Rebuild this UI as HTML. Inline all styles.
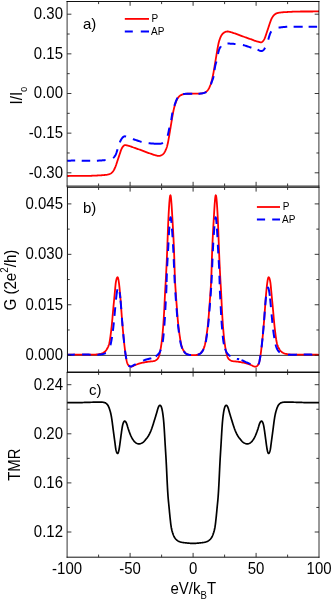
<!DOCTYPE html>
<html><head><meta charset="utf-8"><title>fig</title>
<style>
html,body{margin:0;padding:0;background:#fff;}
svg{display:block;will-change:transform;}
text{font-family:"Liberation Sans",sans-serif;font-size:15px;fill:#000;}
.lg text{font-size:10px;}
</style></head><body>
<svg width="332" height="600" viewBox="0 0 332 600">
<rect width="332" height="600" fill="#fff"/>
<!-- curves panel a -->
<path d="M67.20,176.00 L68.36,175.98 L69.48,175.96 L70.57,175.95 L71.63,175.94 L72.66,175.93 L73.67,175.92 L74.64,175.91 L75.60,175.91 L76.52,175.91 L77.43,175.90 L78.32,175.90 L79.19,175.90 L80.04,175.90 L80.88,175.90 L81.70,175.90 L82.51,175.90 L83.31,175.90 L84.10,175.89 L84.88,175.89 L85.65,175.88 L86.42,175.87 L87.19,175.86 L87.95,175.85 L88.72,175.84 L89.48,175.82 L90.25,175.80 L91.03,175.78 L91.80,175.75 L92.58,175.72 L93.36,175.69 L94.14,175.65 L94.92,175.62 L95.70,175.58 L96.48,175.54 L97.25,175.50 L98.02,175.46 L98.79,175.42 L99.55,175.37 L100.30,175.33 L101.05,175.29 L101.78,175.24 L102.50,175.19 L103.22,175.13 L103.91,175.07 L104.59,175.01 L105.25,174.94 L105.89,174.87 L106.51,174.78 L107.11,174.69 L107.68,174.59 L108.23,174.47 L108.77,174.33 L109.28,174.17 L109.78,173.98 L110.25,173.75 L110.71,173.49 L111.16,173.19 L111.58,172.86 L111.99,172.49 L112.38,172.09 L112.75,171.67 L113.11,171.22 L113.44,170.76 L113.75,170.28 L114.05,169.79 L114.32,169.28 L114.58,168.77 L114.82,168.24 L115.06,167.71 L115.28,167.16 L115.50,166.60 L115.71,166.02 L115.92,165.43 L116.14,164.83 L116.35,164.21 L116.56,163.59 L116.77,162.96 L116.98,162.32 L117.19,161.67 L117.40,161.02 L117.62,160.37 L117.83,159.72 L118.04,159.07 L118.26,158.42 L118.47,157.77 L118.69,157.13 L118.90,156.49 L119.12,155.86 L119.33,155.22 L119.54,154.59 L119.75,153.96 L119.96,153.34 L120.16,152.72 L120.36,152.10 L120.56,151.49 L120.77,150.89 L120.99,150.30 L121.21,149.72 L121.45,149.15 L121.71,148.60 L121.98,148.07 L122.28,147.55 L122.60,147.06 L122.94,146.61 L123.30,146.19 L123.66,145.83 L124.03,145.52 L124.39,145.28 L124.74,145.12 L125.08,145.04 L125.41,145.04 L125.74,145.09 L126.07,145.17 L126.42,145.28 L126.80,145.38 L127.20,145.48 L127.63,145.59 L128.08,145.70 L128.55,145.81 L129.04,145.94 L129.55,146.09 L130.08,146.25 L130.63,146.43 L131.18,146.62 L131.76,146.83 L132.34,147.04 L132.93,147.27 L133.54,147.49 L134.15,147.72 L134.77,147.95 L135.39,148.18 L136.02,148.40 L136.65,148.62 L137.28,148.84 L137.92,149.06 L138.55,149.27 L139.19,149.49 L139.83,149.71 L140.47,149.94 L141.10,150.17 L141.74,150.40 L142.37,150.63 L143.00,150.87 L143.63,151.11 L144.26,151.35 L144.89,151.59 L145.53,151.83 L146.16,152.08 L146.80,152.32 L147.44,152.56 L148.08,152.80 L148.73,153.03 L149.38,153.26 L150.03,153.49 L150.67,153.72 L151.31,153.94 L151.95,154.15 L152.58,154.36 L153.20,154.57 L153.81,154.77 L154.41,154.97 L155.00,155.15 L155.57,155.33 L156.12,155.48 L156.66,155.62 L157.18,155.74 L157.67,155.83 L158.15,155.89 L158.60,155.91 L159.03,155.91 L159.44,155.87 L159.84,155.80 L160.23,155.70 L160.62,155.57 L161.01,155.41 L161.41,155.22 L161.80,155.01 L162.19,154.78 L162.57,154.51 L162.93,154.23 L163.27,153.93 L163.59,153.60 L163.89,153.25 L164.17,152.89 L164.44,152.50 L164.69,152.09 L164.94,151.66 L165.17,151.20 L165.41,150.73 L165.64,150.23 L165.86,149.71 L166.08,149.16 L166.30,148.60 L166.51,148.02 L166.71,147.42 L166.91,146.80 L167.10,146.16 L167.28,145.50 L167.45,144.83 L167.62,144.14 L167.78,143.44 L167.93,142.73 L168.08,142.02 L168.22,141.30 L168.35,140.57 L168.49,139.85 L168.62,139.13 L168.74,138.41 L168.87,137.69 L168.99,136.98 L169.11,136.27 L169.23,135.56 L169.34,134.85 L169.46,134.15 L169.57,133.45 L169.69,132.74 L169.80,132.04 L169.92,131.34 L170.04,130.63 L170.15,129.93 L170.27,129.22 L170.39,128.51 L170.51,127.81 L170.63,127.10 L170.74,126.39 L170.86,125.68 L170.98,124.97 L171.10,124.27 L171.21,123.56 L171.33,122.85 L171.45,122.15 L171.56,121.44 L171.68,120.74 L171.79,120.03 L171.91,119.33 L172.03,118.62 L172.15,117.91 L172.27,117.20 L172.39,116.49 L172.52,115.78 L172.64,115.06 L172.77,114.34 L172.91,113.63 L173.04,112.91 L173.18,112.20 L173.32,111.49 L173.47,110.79 L173.62,110.10 L173.77,109.41 L173.93,108.73 L174.09,108.06 L174.26,107.40 L174.43,106.74 L174.61,106.10 L174.79,105.46 L174.98,104.83 L175.18,104.21 L175.38,103.59 L175.60,102.97 L175.81,102.36 L176.04,101.75 L176.28,101.15 L176.53,100.56 L176.79,99.98 L177.06,99.42 L177.34,98.88 L177.64,98.36 L177.96,97.87 L178.29,97.41 L178.64,96.99 L179.01,96.59 L179.39,96.23 L179.79,95.89 L180.21,95.59 L180.65,95.32 L181.10,95.07 L181.57,94.85 L182.06,94.65 L182.56,94.47 L183.07,94.32 L183.57,94.19 L184.08,94.08 L184.57,93.99 L185.05,93.92 L185.51,93.86 L185.96,93.82 L186.39,93.79 L186.83,93.77 L187.27,93.76 L187.73,93.76 L188.21,93.75 L188.71,93.74 L189.25,93.74 L189.80,93.73 L190.37,93.73 L190.96,93.72 L191.57,93.72 L192.18,93.71 L192.79,93.70 L193.41,93.70 L194.02,93.69 L194.63,93.68 L195.24,93.68 L195.83,93.67 L196.40,93.67 L196.95,93.66 L197.49,93.66 L197.99,93.65 L198.47,93.64 L198.93,93.64 L199.37,93.63 L199.81,93.61 L200.24,93.58 L200.69,93.54 L201.15,93.48 L201.63,93.41 L202.12,93.32 L202.63,93.21 L203.13,93.08 L203.64,92.93 L204.14,92.75 L204.63,92.55 L205.10,92.33 L205.55,92.08 L205.99,91.81 L206.41,91.51 L206.81,91.17 L207.19,90.81 L207.56,90.41 L207.91,89.99 L208.24,89.53 L208.56,89.04 L208.86,88.52 L209.14,87.98 L209.41,87.42 L209.67,86.84 L209.92,86.25 L210.16,85.65 L210.39,85.04 L210.60,84.43 L210.82,83.81 L211.02,83.19 L211.22,82.57 L211.41,81.94 L211.59,81.30 L211.77,80.66 L211.94,80.00 L212.11,79.34 L212.27,78.67 L212.43,77.99 L212.58,77.30 L212.73,76.61 L212.88,75.91 L213.02,75.20 L213.16,74.49 L213.29,73.77 L213.43,73.06 L213.56,72.34 L213.68,71.62 L213.81,70.91 L213.93,70.20 L214.05,69.49 L214.17,68.78 L214.29,68.07 L214.41,67.37 L214.52,66.66 L214.64,65.96 L214.75,65.25 L214.87,64.55 L214.99,63.84 L215.10,63.13 L215.22,62.43 L215.34,61.72 L215.46,61.01 L215.57,60.30 L215.69,59.59 L215.81,58.89 L215.93,58.18 L216.05,57.47 L216.16,56.77 L216.28,56.06 L216.40,55.36 L216.51,54.66 L216.63,53.95 L216.74,53.25 L216.86,52.55 L216.97,51.84 L217.09,51.13 L217.21,50.42 L217.33,49.71 L217.46,48.99 L217.58,48.27 L217.71,47.55 L217.85,46.83 L217.98,46.10 L218.12,45.38 L218.27,44.67 L218.42,43.96 L218.58,43.26 L218.75,42.57 L218.92,41.90 L219.10,41.24 L219.29,40.60 L219.49,39.98 L219.69,39.38 L219.90,38.80 L220.12,38.24 L220.34,37.69 L220.56,37.17 L220.79,36.67 L221.03,36.20 L221.26,35.74 L221.51,35.31 L221.76,34.90 L222.03,34.51 L222.31,34.15 L222.61,33.80 L222.93,33.47 L223.27,33.17 L223.63,32.89 L224.01,32.62 L224.40,32.39 L224.79,32.18 L225.19,31.99 L225.58,31.83 L225.97,31.70 L226.36,31.60 L226.76,31.53 L227.17,31.49 L227.60,31.49 L228.05,31.51 L228.53,31.57 L229.02,31.66 L229.54,31.78 L230.08,31.92 L230.63,32.07 L231.20,32.25 L231.79,32.43 L232.39,32.63 L233.00,32.83 L233.62,33.04 L234.25,33.25 L234.89,33.46 L235.53,33.68 L236.17,33.91 L236.82,34.14 L237.47,34.37 L238.12,34.60 L238.76,34.84 L239.40,35.08 L240.04,35.32 L240.67,35.57 L241.31,35.81 L241.94,36.05 L242.57,36.29 L243.20,36.53 L243.83,36.77 L244.46,37.00 L245.10,37.23 L245.73,37.46 L246.37,37.69 L247.01,37.91 L247.65,38.13 L248.28,38.34 L248.92,38.56 L249.55,38.78 L250.18,39.00 L250.81,39.22 L251.43,39.45 L252.05,39.68 L252.66,39.91 L253.27,40.13 L253.86,40.36 L254.44,40.57 L255.02,40.78 L255.57,40.97 L256.12,41.15 L256.65,41.31 L257.16,41.46 L257.65,41.59 L258.12,41.70 L258.57,41.81 L259.00,41.92 L259.40,42.02 L259.78,42.12 L260.13,42.23 L260.46,42.31 L260.79,42.36 L261.12,42.36 L261.46,42.28 L261.81,42.12 L262.17,41.88 L262.54,41.57 L262.90,41.21 L263.26,40.79 L263.60,40.34 L263.92,39.85 L264.22,39.33 L264.49,38.80 L264.75,38.25 L264.99,37.68 L265.21,37.10 L265.43,36.51 L265.64,35.91 L265.84,35.30 L266.04,34.68 L266.24,34.06 L266.45,33.44 L266.66,32.81 L266.87,32.18 L267.08,31.54 L267.30,30.91 L267.51,30.27 L267.73,29.63 L267.94,28.98 L268.16,28.33 L268.37,27.68 L268.58,27.03 L268.80,26.38 L269.01,25.73 L269.22,25.08 L269.43,24.44 L269.64,23.81 L269.85,23.19 L270.06,22.57 L270.28,21.97 L270.49,21.38 L270.70,20.80 L270.92,20.24 L271.14,19.69 L271.38,19.16 L271.62,18.63 L271.88,18.12 L272.15,17.61 L272.45,17.12 L272.76,16.64 L273.09,16.18 L273.45,15.73 L273.82,15.31 L274.21,14.91 L274.62,14.54 L275.04,14.21 L275.49,13.91 L275.95,13.65 L276.42,13.42 L276.92,13.23 L277.43,13.07 L277.97,12.93 L278.52,12.81 L279.09,12.71 L279.69,12.62 L280.31,12.53 L280.95,12.46 L281.61,12.39 L282.29,12.33 L282.98,12.27 L283.70,12.21 L284.42,12.16 L285.15,12.11 L285.90,12.07 L286.65,12.03 L287.41,11.98 L288.18,11.94 L288.95,11.90 L289.72,11.86 L290.50,11.82 L291.28,11.78 L292.06,11.75 L292.84,11.71 L293.62,11.68 L294.40,11.65 L295.17,11.62 L295.95,11.60 L296.72,11.58 L297.48,11.56 L298.25,11.55 L299.01,11.54 L299.78,11.53 L300.55,11.52 L301.32,11.51 L302.10,11.51 L302.89,11.50 L303.69,11.50 L304.50,11.50 L305.32,11.50 L306.16,11.50 L307.01,11.50 L307.88,11.50 L308.77,11.50 L309.68,11.49 L310.60,11.49 L311.56,11.49 L312.53,11.48 L313.54,11.47 L314.57,11.46 L315.63,11.45 L316.72,11.44 L317.84,11.42 L319.00,11.40" fill="none" stroke="#ff0000" stroke-width="1.8" stroke-linejoin="round"/>
<path d="M67.20,160.70 L68.28,160.67 L69.34,160.65 L70.39,160.63 L71.43,160.61 L72.45,160.60 L73.45,160.59 L74.44,160.59 L75.20,160.58M81.70,160.63 L81.93,160.64 L82.82,160.65 L83.69,160.66 L84.56,160.67 L85.41,160.69 L86.26,160.70 L87.09,160.71 L87.92,160.72 L88.74,160.73 L89.56,160.74 L90.20,160.75M96.90,160.69 L97.34,160.67 L98.09,160.65 L98.84,160.61 L99.58,160.57 L100.32,160.53 L101.05,160.48 L101.78,160.43 L102.49,160.37 L103.20,160.30 L103.90,160.24 L104.58,160.16 L105.24,160.08 L105.57,160.04M113.04,157.97 L113.37,157.72 L113.70,157.44 L114.01,157.13 L114.31,156.80 L114.60,156.45 L114.87,156.06 L115.13,155.65 L115.39,155.21 L115.63,154.75 L115.86,154.25 L116.08,153.73 L116.29,153.19 L116.49,152.63 L116.68,152.05 L116.87,151.45 L117.06,150.85 L117.24,150.24 L117.42,149.62 L117.53,149.26M119.75,142.43 L119.99,141.88 L120.24,141.33 L120.50,140.79 L120.77,140.26 L121.06,139.73 L121.35,139.23 L121.67,138.74 L121.99,138.28 L122.33,137.85 L122.67,137.47 L123.03,137.13 L123.40,136.84 L123.78,136.62 L124.17,136.46 L124.57,136.37 L124.98,136.36 L125.40,136.40 L125.83,136.50 L126.03,136.57M132.90,139.12 L133.05,139.17 L133.61,139.33 L134.18,139.50 L134.77,139.69 L135.37,139.88 L135.99,140.08 L136.62,140.30 L137.25,140.51 L137.90,140.73 L138.55,140.95 L139.20,141.17 L139.85,141.39 L140.50,141.60 L141.14,141.80 L141.56,141.92M148.60,143.23 L148.89,143.25 L149.49,143.30 L150.11,143.35 L150.74,143.40 L151.39,143.45 L152.05,143.51 L152.72,143.56 L153.40,143.61 L154.08,143.65 L154.76,143.70 L155.42,143.73 L156.08,143.77 L156.72,143.79 L157.35,143.81 L157.95,143.82 L158.52,143.82 L159.06,143.81 L159.56,143.78 L160.04,143.74 L160.48,143.69 L160.90,143.62 L161.29,143.54 L161.67,143.43 L162.03,143.31 L162.38,143.16 L162.72,142.99 L162.92,142.87M167.66,135.74 L167.84,135.01 L168.02,134.25 L168.19,133.47 L168.37,132.66 L168.54,131.85 L168.71,131.04 L168.87,130.23 L169.03,129.44 L169.19,128.67 L169.35,127.93 L169.41,127.62M171.23,120.17 L171.34,119.49 L171.45,118.76 L171.57,118.01 L171.68,117.23 L171.80,116.44 L171.91,115.65 L172.03,114.85 L172.15,114.07 L172.27,113.30 L172.37,112.66M174.30,105.84 L174.46,105.41 L174.61,104.97 L174.77,104.51 L174.93,104.04 L175.10,103.56 L175.27,103.07 L175.44,102.58 L175.62,102.08 L175.81,101.58 L176.00,101.08 L176.20,100.58 L176.41,100.08 L176.62,99.59 L176.84,99.12 L177.08,98.66 L177.32,98.21 L177.58,97.79 L177.63,97.71M183.10,94.21 L183.36,94.15 L183.78,94.06 L184.20,93.99 L184.62,93.92 L185.02,93.87 L185.41,93.83 L185.79,93.80 L186.16,93.78 L186.52,93.76 L186.89,93.76 L187.26,93.75 L187.65,93.75 L188.05,93.75 L188.46,93.75 L188.90,93.75 L189.35,93.74 L189.82,93.74 L190.30,93.74 L190.80,93.73 L191.30,93.72 L191.81,93.72 L192.26,93.71M198.50,93.65 L198.55,93.65 L198.94,93.65 L199.31,93.64 L199.68,93.64 L200.04,93.62 L200.41,93.60 L200.79,93.57 L201.18,93.53 L201.58,93.48 L202.00,93.41 L202.42,93.34 L202.84,93.25 L203.27,93.15 L203.70,93.04 L204.12,92.91 L204.54,92.78 L204.95,92.62 L205.34,92.46 L205.73,92.28 L206.10,92.08 L206.40,91.89M210.93,84.33 L211.10,83.84 L211.27,83.36 L211.43,82.89 L211.59,82.43 L211.74,81.99 L211.90,81.56 L212.05,81.15 L212.19,80.75 L212.34,80.37 L212.48,80.00 L212.63,79.62 L212.76,79.24 L212.90,78.83 L213.04,78.40 L213.17,77.93 L213.30,77.41 L213.43,76.85 L213.56,76.23 L213.57,76.16M214.52,70.17 L214.63,69.39 L214.75,68.64 L214.86,67.91 L214.97,67.23 L215.09,66.59 L215.20,66.01 L215.31,65.48 L215.43,65.00 L215.54,64.56 L215.66,64.14 L215.78,63.74 L215.90,63.33 L216.02,62.91 L216.15,62.46 L216.28,61.97 L216.40,61.48M218.01,53.93 L218.18,53.15 L218.36,52.39 L218.54,51.66 L218.71,50.98 L218.90,50.34 L219.08,49.76 L219.26,49.24 L219.44,48.78 L219.63,48.36 L219.83,47.97 L220.04,47.63 L220.25,47.30 L220.48,47.00 L220.72,46.70 L220.98,46.42 L220.98,46.41M227.50,43.59 L227.68,43.58 L228.25,43.58 L228.85,43.59 L229.48,43.61 L230.12,43.63 L230.78,43.67 L231.44,43.70 L232.12,43.75 L232.80,43.79 L233.48,43.84 L234.15,43.89 L234.81,43.95 L235.46,44.00 L235.49,44.00M242.90,45.00 L243.17,45.07 L243.79,45.23 L244.42,45.41 L245.06,45.60 L245.70,45.80 L246.35,46.01 L247.00,46.23 L247.65,46.45 L248.30,46.67 L248.95,46.89 L249.58,47.10 L250.21,47.32 L250.83,47.52 L251.38,47.70M257.60,49.70 L257.67,49.73 L258.14,49.95 L258.60,50.16 L259.05,50.38 L259.50,50.58 L259.94,50.75 L260.37,50.90 L260.80,51.00 L261.22,51.04 L261.63,51.03 L262.03,50.94 L262.42,50.78 L262.80,50.56 L263.17,50.27 L263.53,49.93 L263.87,49.55 L264.21,49.12 L264.53,48.66 L264.85,48.17 L265.09,47.77M268.24,39.65 L268.42,39.03 L268.60,38.40 L268.78,37.78 L268.96,37.16 L269.14,36.55 L269.33,35.95 L269.52,35.35 L269.71,34.77 L269.91,34.21 L270.12,33.67 L270.34,33.15 L270.57,32.65 L270.81,32.19 L271.07,31.75 L271.33,31.34M278.60,27.65 L279.08,27.57 L279.68,27.48 L280.31,27.40 L280.96,27.32 L281.62,27.24 L282.30,27.16 L283.00,27.10 L283.71,27.03 L284.42,26.97 L285.15,26.92 L285.88,26.87 L286.62,26.83 L287.25,26.79M293.60,26.65 L294.25,26.65 L295.04,26.65 L295.84,26.65 L296.64,26.66 L297.46,26.67 L298.28,26.68 L299.11,26.69 L299.94,26.70 L300.79,26.71 L301.64,26.73 L302.51,26.74 L302.70,26.74M308.60,26.81 L308.86,26.81 L309.81,26.81 L310.78,26.82 L311.76,26.81 L312.75,26.81 L313.75,26.80 L314.77,26.79 L315.81,26.77 L316.86,26.75 L317.10,26.75" fill="none" stroke="#0000ff" stroke-width="2" stroke-linejoin="round"/>
<!-- panel b -->
<path d="M67.1,355.4H319.0" stroke="#000" stroke-width="0.75" fill="none"/>
<path d="M67.20,354.80 L68.90,354.76 L70.62,354.73 L72.33,354.71 L74.05,354.70 L75.75,354.69 L77.44,354.69 L79.11,354.69 L80.76,354.69 L82.37,354.69 L83.95,354.70 L85.48,354.70 L86.96,354.70 L88.39,354.70 L89.76,354.69 L91.06,354.68 L92.29,354.66 L93.44,354.63 L94.50,354.59 L95.48,354.55 L96.36,354.49 L97.15,354.42 L97.86,354.33 L98.54,354.23 L99.19,354.11 L99.86,353.96 L100.55,353.79 L101.25,353.59 L101.95,353.35 L102.65,353.07 L103.31,352.74 L103.94,352.36 L104.54,351.92 L105.11,351.42 L105.65,350.87 L106.16,350.25 L106.65,349.57 L107.11,348.84 L107.55,348.05 L107.95,347.22 L108.33,346.33 L108.67,345.41 L108.97,344.45 L109.24,343.45 L109.47,342.42 L109.69,341.35 L109.88,340.26 L110.06,339.14 L110.22,337.98 L110.39,336.80 L110.55,335.60 L110.71,334.37 L110.87,333.11 L111.03,331.83 L111.19,330.54 L111.34,329.22 L111.49,327.89 L111.64,326.54 L111.78,325.17 L111.92,323.80 L112.05,322.41 L112.18,321.02 L112.31,319.62 L112.43,318.22 L112.55,316.83 L112.67,315.45 L112.79,314.07 L112.91,312.71 L113.03,311.37 L113.15,310.05 L113.27,308.74 L113.39,307.44 L113.51,306.16 L113.63,304.87 L113.75,303.59 L113.88,302.31 L114.00,301.02 L114.13,299.72 L114.25,298.40 L114.38,297.08 L114.51,295.76 L114.63,294.44 L114.75,293.13 L114.87,291.84 L114.99,290.56 L115.11,289.30 L115.22,288.07 L115.33,286.87 L115.44,285.71 L115.56,284.58 L115.69,283.48 L115.84,282.42 L116.01,281.40 L116.20,280.41 L116.43,279.47 L116.69,278.61 L116.96,277.90 L117.23,277.40 L117.49,277.20 L117.73,277.34 L117.94,277.75 L118.14,278.37 L118.32,279.11 L118.49,279.94 L118.64,280.84 L118.79,281.80 L118.93,282.82 L119.07,283.88 L119.20,284.97 L119.32,286.08 L119.45,287.22 L119.57,288.37 L119.69,289.55 L119.81,290.75 L119.93,291.98 L120.05,293.23 L120.16,294.51 L120.27,295.81 L120.38,297.14 L120.48,298.50 L120.59,299.87 L120.69,301.25 L120.79,302.65 L120.90,304.06 L121.00,305.47 L121.10,306.89 L121.20,308.30 L121.30,309.72 L121.40,311.13 L121.50,312.53 L121.61,313.93 L121.71,315.32 L121.81,316.71 L121.92,318.09 L122.02,319.46 L122.13,320.82 L122.24,322.17 L122.35,323.51 L122.46,324.83 L122.57,326.15 L122.68,327.45 L122.79,328.74 L122.90,330.01 L123.01,331.27 L123.13,332.51 L123.24,333.74 L123.35,334.95 L123.47,336.15 L123.58,337.34 L123.70,338.53 L123.82,339.71 L123.94,340.90 L124.07,342.10 L124.20,343.31 L124.34,344.54 L124.47,345.77 L124.62,347.01 L124.76,348.23 L124.91,349.45 L125.05,350.64 L125.20,351.80 L125.35,352.92 L125.50,354.00 L125.64,355.03 L125.79,356.03 L125.95,357.00 L126.11,357.95 L126.28,358.88 L126.46,359.80 L126.65,360.73 L126.87,361.64 L127.11,362.52 L127.39,363.36 L127.71,364.14 L128.09,364.83 L128.53,365.43 L129.03,365.92 L129.59,366.29 L130.19,366.52 L130.83,366.60 L131.50,366.54 L132.19,366.36 L132.88,366.10 L133.55,365.81 L134.19,365.51 L134.80,365.24 L135.39,364.98 L136.00,364.74 L136.65,364.49 L137.36,364.24 L138.14,363.97 L138.98,363.71 L139.86,363.44 L140.78,363.19 L141.72,362.94 L142.67,362.71 L143.63,362.51 L144.57,362.32 L145.48,362.16 L146.34,362.01 L147.14,361.88 L147.85,361.78 L148.47,361.69 L149.05,361.62 L149.62,361.56 L150.22,361.50 L150.89,361.44 L151.61,361.37 L152.37,361.29 L153.13,361.17 L153.89,361.02 L154.62,360.81 L155.31,360.55 L155.95,360.24 L156.55,359.86 L157.08,359.42 L157.55,358.90 L157.97,358.33 L158.33,357.70 L158.65,357.02 L158.93,356.30 L159.18,355.55 L159.41,354.77 L159.63,353.95 L159.82,353.10 L160.01,352.22 L160.19,351.30 L160.37,350.34 L160.55,349.35 L160.73,348.34 L160.91,347.30 L161.08,346.24 L161.24,345.17 L161.40,344.09 L161.55,343.00 L161.70,341.91 L161.83,340.81 L161.96,339.70 L162.09,338.58 L162.21,337.45 L162.32,336.31 L162.44,335.15 L162.55,333.98 L162.66,332.79 L162.76,331.59 L162.87,330.39 L162.97,329.18 L163.07,327.97 L163.17,326.77 L163.26,325.56 L163.35,324.37 L163.43,323.19 L163.51,322.00 L163.59,320.82 L163.67,319.64 L163.75,318.44 L163.82,317.23 L163.89,316.01 L163.96,314.76 L164.04,313.49 L164.11,312.20 L164.18,310.89 L164.25,309.56 L164.32,308.21 L164.39,306.85 L164.46,305.47 L164.52,304.08 L164.59,302.68 L164.66,301.27 L164.72,299.86 L164.79,298.46 L164.85,297.06 L164.92,295.69 L164.98,294.34 L165.04,293.03 L165.11,291.76 L165.17,290.53 L165.24,289.36 L165.30,288.23 L165.37,287.13 L165.44,286.02 L165.51,284.89 L165.58,283.72 L165.65,282.47 L165.73,281.13 L165.82,279.67 L165.91,278.09 L166.00,276.38 L166.09,274.56 L166.19,272.64 L166.29,270.64 L166.39,268.55 L166.49,266.41 L166.60,264.21 L166.70,261.96 L166.80,259.69 L166.90,257.39 L166.99,255.09 L167.09,252.78 L167.18,250.49 L167.27,248.23 L167.35,245.99 L167.43,243.76 L167.51,241.56 L167.59,239.36 L167.67,237.16 L167.75,234.97 L167.83,232.77 L167.91,230.57 L168.00,228.35 L168.09,226.12 L168.18,223.86 L168.28,221.58 L168.39,219.27 L168.50,216.92 L168.62,214.53 L168.75,212.11 L168.89,209.70 L169.03,207.34 L169.18,205.07 L169.33,202.93 L169.49,200.97 L169.65,199.22 L169.81,197.74 L169.98,196.56 L170.14,195.72 L170.31,195.27 L170.47,195.24 L170.64,195.65 L170.80,196.45 L170.96,197.60 L171.11,199.06 L171.27,200.78 L171.42,202.72 L171.58,204.84 L171.72,207.10 L171.87,209.46 L172.02,211.87 L172.16,214.29 L172.30,216.69 L172.44,219.04 L172.57,221.36 L172.70,223.65 L172.83,225.91 L172.95,228.15 L173.08,230.37 L173.20,232.57 L173.31,234.77 L173.42,236.96 L173.53,239.15 L173.63,241.35 L173.73,243.55 L173.83,245.77 L173.92,248.00 L174.01,250.26 L174.09,252.53 L174.17,254.82 L174.25,257.11 L174.32,259.40 L174.39,261.66 L174.46,263.90 L174.53,266.10 L174.59,268.25 L174.66,270.34 L174.72,272.36 L174.78,274.29 L174.85,276.14 L174.91,277.88 L174.98,279.51 L175.05,281.02 L175.12,282.41 L175.19,283.70 L175.26,284.92 L175.33,286.07 L175.40,287.17 L175.48,288.24 L175.55,289.30 L175.63,290.37 L175.70,291.45 L175.77,292.55 L175.85,293.65 L175.92,294.78 L176.00,295.91 L176.08,297.06 L176.16,298.22 L176.25,299.39 L176.33,300.57 L176.42,301.76 L176.51,302.95 L176.60,304.16 L176.70,305.36 L176.79,306.57 L176.88,307.79 L176.97,309.00 L177.06,310.21 L177.14,311.42 L177.23,312.63 L177.32,313.84 L177.40,315.04 L177.50,316.23 L177.59,317.41 L177.69,318.59 L177.79,319.76 L177.89,320.91 L178.00,322.06 L178.12,323.19 L178.24,324.30 L178.36,325.40 L178.48,326.49 L178.61,327.56 L178.74,328.61 L178.87,329.64 L179.00,330.67 L179.14,331.70 L179.28,332.72 L179.42,333.76 L179.57,334.80 L179.72,335.85 L179.88,336.92 L180.04,337.98 L180.20,339.04 L180.37,340.08 L180.54,341.09 L180.72,342.07 L180.90,343.01 L181.09,343.91 L181.29,344.77 L181.50,345.59 L181.73,346.39 L181.98,347.17 L182.26,347.92 L182.56,348.66 L182.89,349.38 L183.24,350.07 L183.62,350.73 L184.02,351.36 L184.45,351.94 L184.91,352.49 L185.42,352.99 L185.98,353.44 L186.59,353.83 L187.27,354.18 L187.99,354.46 L188.73,354.70 L189.47,354.88 L190.19,355.00 L190.88,355.07 L191.53,355.10 L192.17,355.11 L192.79,355.10 L193.41,355.10 L194.03,355.11 L194.67,355.10 L195.32,355.07 L196.01,355.00 L196.73,354.88 L197.47,354.70 L198.21,354.46 L198.93,354.18 L199.61,353.83 L200.22,353.44 L200.78,352.99 L201.29,352.49 L201.75,351.94 L202.18,351.36 L202.58,350.73 L202.96,350.07 L203.31,349.38 L203.64,348.66 L203.94,347.92 L204.22,347.17 L204.47,346.39 L204.70,345.59 L204.91,344.77 L205.11,343.91 L205.30,343.01 L205.48,342.07 L205.66,341.09 L205.83,340.08 L206.00,339.04 L206.16,337.98 L206.32,336.92 L206.48,335.85 L206.63,334.80 L206.78,333.76 L206.92,332.72 L207.06,331.70 L207.20,330.67 L207.33,329.64 L207.46,328.61 L207.59,327.56 L207.72,326.49 L207.84,325.40 L207.96,324.30 L208.08,323.19 L208.20,322.06 L208.31,320.91 L208.41,319.76 L208.51,318.59 L208.61,317.41 L208.70,316.23 L208.80,315.04 L208.88,313.84 L208.97,312.63 L209.06,311.42 L209.14,310.21 L209.23,309.00 L209.32,307.79 L209.41,306.57 L209.50,305.36 L209.60,304.16 L209.69,302.95 L209.78,301.76 L209.87,300.57 L209.95,299.39 L210.04,298.22 L210.12,297.06 L210.20,295.91 L210.28,294.78 L210.35,293.65 L210.43,292.55 L210.50,291.45 L210.57,290.37 L210.65,289.30 L210.72,288.24 L210.80,287.17 L210.87,286.07 L210.94,284.92 L211.01,283.70 L211.08,282.41 L211.15,281.02 L211.22,279.51 L211.29,277.88 L211.35,276.14 L211.42,274.29 L211.48,272.36 L211.54,270.34 L211.61,268.25 L211.67,266.10 L211.74,263.90 L211.81,261.66 L211.88,259.40 L211.95,257.11 L212.03,254.82 L212.11,252.53 L212.19,250.26 L212.28,248.00 L212.37,245.77 L212.47,243.55 L212.57,241.35 L212.67,239.15 L212.78,236.96 L212.89,234.77 L213.00,232.57 L213.12,230.37 L213.25,228.15 L213.37,225.91 L213.50,223.65 L213.63,221.36 L213.76,219.04 L213.90,216.69 L214.04,214.29 L214.18,211.87 L214.33,209.46 L214.48,207.10 L214.62,204.84 L214.78,202.72 L214.93,200.78 L215.09,199.06 L215.24,197.60 L215.40,196.45 L215.56,195.65 L215.73,195.24 L215.89,195.27 L216.06,195.72 L216.22,196.56 L216.39,197.74 L216.55,199.22 L216.71,200.97 L216.87,202.93 L217.02,205.07 L217.17,207.34 L217.31,209.70 L217.45,212.11 L217.58,214.53 L217.70,216.92 L217.81,219.27 L217.92,221.58 L218.02,223.86 L218.11,226.12 L218.20,228.35 L218.29,230.57 L218.37,232.77 L218.45,234.97 L218.53,237.16 L218.61,239.36 L218.69,241.56 L218.77,243.76 L218.85,245.99 L218.93,248.23 L219.02,250.49 L219.11,252.78 L219.21,255.09 L219.30,257.39 L219.40,259.69 L219.50,261.96 L219.60,264.21 L219.71,266.41 L219.81,268.55 L219.91,270.64 L220.01,272.64 L220.11,274.56 L220.20,276.38 L220.29,278.09 L220.38,279.67 L220.47,281.13 L220.55,282.47 L220.62,283.72 L220.69,284.89 L220.76,286.02 L220.83,287.13 L220.90,288.23 L220.96,289.36 L221.03,290.53 L221.09,291.76 L221.16,293.03 L221.22,294.34 L221.28,295.69 L221.35,297.06 L221.41,298.46 L221.48,299.86 L221.54,301.27 L221.61,302.68 L221.68,304.08 L221.74,305.47 L221.81,306.85 L221.88,308.21 L221.95,309.56 L222.02,310.89 L222.09,312.20 L222.16,313.49 L222.24,314.76 L222.31,316.01 L222.38,317.23 L222.45,318.44 L222.53,319.64 L222.61,320.82 L222.69,322.00 L222.77,323.19 L222.85,324.37 L222.94,325.56 L223.03,326.77 L223.13,327.97 L223.23,329.18 L223.33,330.39 L223.44,331.59 L223.54,332.79 L223.65,333.98 L223.76,335.15 L223.88,336.31 L223.99,337.45 L224.11,338.58 L224.24,339.70 L224.37,340.81 L224.50,341.91 L224.65,343.00 L224.80,344.09 L224.96,345.17 L225.12,346.24 L225.29,347.30 L225.47,348.34 L225.65,349.35 L225.83,350.34 L226.01,351.30 L226.19,352.22 L226.38,353.10 L226.57,353.95 L226.79,354.77 L227.02,355.55 L227.27,356.30 L227.55,357.02 L227.87,357.70 L228.23,358.33 L228.65,358.90 L229.12,359.42 L229.65,359.86 L230.25,360.24 L230.89,360.55 L231.58,360.81 L232.31,361.02 L233.07,361.17 L233.83,361.29 L234.59,361.37 L235.31,361.44 L235.98,361.50 L236.58,361.56 L237.15,361.62 L237.73,361.69 L238.35,361.78 L239.06,361.88 L239.86,362.01 L240.72,362.16 L241.63,362.32 L242.57,362.51 L243.53,362.71 L244.48,362.94 L245.42,363.19 L246.34,363.44 L247.22,363.71 L248.06,363.97 L248.84,364.24 L249.55,364.49 L250.20,364.74 L250.81,364.98 L251.40,365.24 L252.01,365.51 L252.65,365.81 L253.32,366.10 L254.01,366.36 L254.70,366.54 L255.37,366.60 L256.01,366.52 L256.61,366.29 L257.17,365.92 L257.67,365.43 L258.11,364.83 L258.49,364.14 L258.81,363.36 L259.09,362.52 L259.33,361.64 L259.55,360.73 L259.74,359.80 L259.92,358.88 L260.09,357.95 L260.25,357.00 L260.41,356.03 L260.56,355.03 L260.70,354.00 L260.85,352.92 L261.00,351.80 L261.15,350.64 L261.29,349.45 L261.44,348.23 L261.58,347.01 L261.73,345.77 L261.86,344.54 L262.00,343.31 L262.13,342.10 L262.26,340.90 L262.38,339.71 L262.50,338.53 L262.62,337.34 L262.73,336.15 L262.85,334.95 L262.96,333.74 L263.07,332.51 L263.19,331.27 L263.30,330.01 L263.41,328.74 L263.52,327.45 L263.63,326.15 L263.74,324.83 L263.85,323.51 L263.96,322.17 L264.07,320.82 L264.18,319.46 L264.28,318.09 L264.39,316.71 L264.49,315.32 L264.59,313.93 L264.70,312.53 L264.80,311.13 L264.90,309.72 L265.00,308.30 L265.10,306.89 L265.20,305.47 L265.30,304.06 L265.41,302.65 L265.51,301.25 L265.61,299.87 L265.72,298.50 L265.82,297.14 L265.93,295.81 L266.04,294.51 L266.15,293.23 L266.27,291.98 L266.39,290.75 L266.51,289.55 L266.63,288.37 L266.75,287.22 L266.88,286.08 L267.00,284.97 L267.13,283.88 L267.27,282.82 L267.41,281.80 L267.56,280.84 L267.71,279.94 L267.88,279.11 L268.06,278.37 L268.26,277.75 L268.47,277.34 L268.71,277.20 L268.97,277.40 L269.24,277.90 L269.51,278.61 L269.77,279.47 L270.00,280.41 L270.19,281.40 L270.36,282.42 L270.51,283.48 L270.64,284.58 L270.76,285.71 L270.87,286.87 L270.98,288.07 L271.09,289.30 L271.21,290.56 L271.33,291.84 L271.45,293.13 L271.57,294.44 L271.69,295.76 L271.82,297.08 L271.95,298.40 L272.07,299.72 L272.20,301.02 L272.32,302.31 L272.45,303.59 L272.57,304.87 L272.69,306.16 L272.81,307.44 L272.93,308.74 L273.05,310.05 L273.17,311.37 L273.29,312.71 L273.41,314.07 L273.53,315.45 L273.65,316.83 L273.77,318.22 L273.89,319.62 L274.02,321.02 L274.15,322.41 L274.28,323.80 L274.42,325.17 L274.56,326.54 L274.71,327.89 L274.86,329.22 L275.01,330.54 L275.17,331.83 L275.33,333.11 L275.49,334.37 L275.65,335.60 L275.81,336.80 L275.98,337.98 L276.14,339.14 L276.32,340.26 L276.51,341.35 L276.73,342.42 L276.96,343.45 L277.23,344.45 L277.53,345.41 L277.87,346.33 L278.25,347.22 L278.65,348.05 L279.09,348.84 L279.55,349.57 L280.04,350.25 L280.55,350.87 L281.09,351.42 L281.66,351.92 L282.26,352.36 L282.89,352.74 L283.55,353.07 L284.25,353.35 L284.95,353.59 L285.65,353.79 L286.34,353.96 L287.01,354.11 L287.66,354.23 L288.34,354.33 L289.05,354.42 L289.84,354.49 L290.72,354.55 L291.70,354.59 L292.76,354.63 L293.91,354.66 L295.14,354.68 L296.44,354.69 L297.81,354.70 L299.24,354.70 L300.72,354.70 L302.25,354.70 L303.83,354.69 L305.44,354.69 L307.09,354.69 L308.76,354.69 L310.45,354.69 L312.15,354.70 L313.87,354.71 L315.58,354.73 L317.30,354.76 L319.00,354.80" fill="none" stroke="#ff0000" stroke-width="1.8" stroke-linejoin="round"/>
<path d="M67.30,354.80 L70.07,354.72 L72.76,354.65 L74.80,354.62M82.10,354.55 L83.72,354.55 L85.48,354.57 L87.11,354.58 L88.63,354.60 L90.03,354.63 L90.70,354.64M97.40,354.68 L97.55,354.68 L98.39,354.65 L99.19,354.60 L99.97,354.54 L100.74,354.46 L101.49,354.36 L102.24,354.23 L102.98,354.07 L103.71,353.87 L104.41,353.63 L105.09,353.34 L105.73,352.98 L105.74,352.98M110.39,345.36 L110.63,344.40 L110.85,343.41 L111.06,342.39 L111.27,341.35 L111.47,340.28 L111.66,339.19 L111.85,338.07 L112.04,336.93 L112.04,336.92M112.89,330.91 L113.04,329.63 L113.20,328.34 L113.35,327.03 L113.49,325.70 L113.64,324.34 L113.78,322.97 L113.84,322.36M114.47,315.81 L114.61,314.32 L114.74,312.81 L114.89,311.29 L115.03,309.76 L115.17,308.24 L115.26,307.25M115.98,299.72 L116.11,298.49 L116.23,297.35 L116.35,296.30 L116.46,295.33 L116.57,294.44 L116.68,293.60 L116.80,292.80 L116.92,292.01 L117.06,291.23 L117.21,290.43 L117.38,289.62 L117.45,289.33M119.59,292.09 L119.68,292.61 L119.80,293.50 L119.92,294.41 L120.03,295.36 L120.13,296.33 L120.23,297.34 L120.31,298.08M120.55,300.57 L120.65,301.70 L120.75,302.86 L120.85,304.04 L120.95,305.24 L121.05,306.45 L121.15,307.68 L121.25,308.92 L121.26,309.14M121.90,317.72 L121.99,318.97 L122.09,320.21 L122.18,321.45 L122.28,322.67 L122.37,323.88 L122.47,325.08 L122.57,326.26 L122.57,326.29M123.29,334.21 L123.39,335.29 L123.49,336.37 L123.60,337.44 L123.70,338.52 L123.81,339.59 L123.92,340.66 L124.03,341.74 L124.14,342.77M125.04,350.54 L125.17,351.59 L125.31,352.61 L125.44,353.59 L125.58,354.54 L125.72,355.46 L125.86,356.35 L126.00,357.22 L126.15,358.07 L126.30,358.91 L126.32,359.04M128.65,365.51 L129.15,365.95 L129.68,366.28 L130.20,366.50 L130.68,366.60 L131.11,366.57 L131.51,366.44 L131.91,366.23 L132.36,365.96 L132.88,365.66 L133.45,365.33 L134.07,364.99 L134.73,364.64 L135.41,364.29 L135.72,364.14M143.13,360.73 L143.89,360.38 L144.69,360.05 L145.52,359.73 L146.40,359.44 L147.32,359.17 L148.27,358.92 L149.23,358.67 L150.18,358.43 L151.11,358.19 L151.31,358.13M155.66,356.30 L156.23,355.92 L156.76,355.52 L157.26,355.12 L157.73,354.70 L158.18,354.27 L158.61,353.79 L159.02,353.26 L159.41,352.66 L159.78,351.98 L160.13,351.23 L160.47,350.42 L160.77,349.62M162.71,341.98 L162.85,341.09 L162.98,340.15 L163.11,339.14 L163.23,338.06 L163.36,336.93 L163.48,335.74 L163.60,334.52 L163.70,333.44M164.34,325.63 L164.44,324.40 L164.53,323.18 L164.61,321.98 L164.69,320.78 L164.77,319.59 L164.85,318.39 L164.92,317.20 L164.93,317.05M165.32,309.94 L165.38,308.72 L165.44,307.50 L165.50,306.29 L165.56,305.08 L165.63,303.89 L165.69,302.70 L165.75,301.53 L165.76,301.35M166.21,293.25 L166.27,291.98 L166.32,290.68 L166.38,289.32 L166.43,287.93 L166.47,286.49 L166.52,285.01 L166.53,284.66M166.61,281.97 L166.65,280.42 L166.70,278.84 L166.74,277.26 L166.79,275.67 L166.85,274.07 L166.87,273.38M167.18,266.21 L167.26,264.67 L167.34,263.14 L167.42,261.62 L167.51,260.10 L167.60,258.59 L167.66,257.63M168.05,250.98 L168.13,249.44 L168.21,247.89 L168.29,246.33 L168.37,244.77 L168.45,243.19 L168.49,242.39M168.86,235.16 L168.96,233.53 L169.05,231.89 L169.15,230.24 L169.26,228.58 L169.38,226.91 L169.40,226.58M169.89,220.78 L170.03,219.57 L170.17,218.57 L170.32,217.82 L170.46,217.35 L170.60,217.20 L170.75,217.40 L170.89,217.92 L171.03,218.71 L171.17,219.74 L171.31,220.97 L171.44,222.35 L171.49,222.91M171.95,228.62 L172.07,230.19 L172.18,231.74 L172.29,233.28 L172.40,234.81 L172.50,236.34 L172.56,237.20M173.00,244.23 L173.09,245.90 L173.18,247.63 L173.27,249.42 L173.36,251.26 L173.43,252.82M173.71,259.12 L173.80,261.15 L173.88,263.17 L173.96,265.19 L174.05,267.18 L174.07,267.72M174.36,274.70 L174.43,276.41 L174.51,278.02 L174.58,279.54 L174.65,280.94 L174.71,282.23 L174.77,283.29M175.36,292.36 L175.42,293.36 L175.49,294.37 L175.56,295.39 L175.63,296.43 L175.71,297.47 L175.78,298.52 L175.86,299.58 L175.95,300.65 L175.97,300.94M176.56,308.24 L176.65,309.34 L176.73,310.43 L176.82,311.52 L176.90,312.61 L176.99,313.70 L177.07,314.78 L177.16,315.86 L177.24,316.82M177.93,324.19 L178.03,325.19 L178.14,326.17 L178.26,327.14 L178.37,328.09 L178.49,329.04 L178.61,329.97 L178.73,330.90 L178.86,331.82 L178.98,332.73M180.10,340.32 L180.26,341.23 L180.42,342.11 L180.60,342.96 L180.78,343.77 L180.97,344.55 L181.17,345.30 L181.39,346.03 L181.62,346.74 L181.87,347.42 L182.14,348.10 L182.35,348.59M183.76,351.19 L184.15,351.75 L184.57,352.28 L185.02,352.77 L185.50,353.23 L186.02,353.63 L186.60,353.98 L187.21,354.27 L187.86,354.51 L188.53,354.70 L189.20,354.85 L189.86,354.96 L190.50,355.03 L191.02,355.07M197.67,354.70 L198.34,354.51 L198.99,354.27 L199.60,353.98 L200.18,353.63 L200.70,353.23 L201.18,352.77 L201.63,352.28 L202.05,351.75 L202.44,351.19 L202.80,350.61 L203.15,350.01 L203.47,349.39 L203.66,349.00M205.78,342.11 L205.94,341.23 L206.10,340.32 L206.26,339.38 L206.40,338.44 L206.55,337.48 L206.68,336.52 L206.82,335.56 L206.95,334.61 L207.09,333.68 L207.09,333.61M207.94,327.14 L208.06,326.17 L208.17,325.19 L208.27,324.19 L208.38,323.19 L208.48,322.17 L208.58,321.14 L208.68,320.10 L208.77,319.05 L208.81,318.58M209.38,311.52 L209.47,310.43 L209.55,309.34 L209.64,308.24 L209.73,307.15 L209.82,306.06 L209.91,304.97 L209.99,303.88 L210.07,302.95M210.57,296.43 L210.64,295.39 L210.71,294.37 L210.78,293.36 L210.84,292.36 L210.91,291.38 L210.97,290.41 L211.04,289.46 L211.10,288.52 L211.14,287.85M211.42,283.43 L211.49,282.23 L211.55,280.94 L211.62,279.54 L211.69,278.02 L211.77,276.41 L211.84,274.84M212.15,267.18 L212.24,265.19 L212.32,263.17 L212.40,261.15 L212.49,259.12 L212.51,258.59M212.84,251.26 L212.93,249.42 L213.02,247.63 L213.11,245.90 L213.20,244.23 L213.29,242.68M213.80,234.81 L213.91,233.28 L214.02,231.74 L214.13,230.19 L214.25,228.62 L214.37,227.02 L214.44,226.23M215.03,219.74 L215.17,218.71 L215.31,217.92 L215.45,217.40 L215.60,217.20 L215.74,217.35 L215.88,217.82 L216.03,218.57 L216.17,219.57 L216.31,220.78 L216.44,222.15 L216.58,223.66 L216.60,223.95M216.94,228.58 L217.05,230.24 L217.15,231.89 L217.24,233.53 L217.34,235.16 L217.42,236.79 L217.44,237.16M217.83,244.77 L217.91,246.33 L217.99,247.89 L218.07,249.44 L218.15,250.98 L218.24,252.51 L218.29,253.35M218.69,260.10 L218.78,261.62 L218.86,263.14 L218.94,264.67 L219.02,266.21 L219.10,267.76 L219.14,268.69M219.41,275.67 L219.46,277.26 L219.50,278.84 L219.55,280.42 L219.59,281.97 L219.64,283.51 L219.66,284.26M219.88,290.68 L219.93,291.98 L219.99,293.25 L220.05,294.48 L220.12,295.69 L220.18,296.88 L220.25,298.05 L220.31,299.21 L220.32,299.26M220.70,306.29 L220.76,307.50 L220.82,308.72 L220.88,309.94 L220.94,311.16 L221.01,312.38 L221.07,313.60 L221.14,314.81 L221.14,314.88M221.51,320.78 L221.59,321.98 L221.67,323.18 L221.76,324.40 L221.86,325.63 L221.95,326.87 L222.05,328.14 L222.15,329.35M222.72,335.74 L222.84,336.93 L222.97,338.06 L223.09,339.14 L223.22,340.15 L223.35,341.09 L223.49,341.98 L223.63,342.82 L223.79,343.64 L223.92,344.25M225.12,348.69 L225.41,349.57 L225.73,350.42 L226.07,351.23 L226.42,351.98 L226.79,352.66 L227.18,353.26 L227.59,353.79 L228.02,354.27 L228.47,354.70 L228.94,355.12 L229.44,355.52 L229.97,355.92 L230.47,356.26M236.90,358.65 L236.97,358.67 L237.93,358.92 L238.88,359.17 L239.15,359.25M241.51,360.05 L242.31,360.38 L243.07,360.73 L243.81,361.08 L244.53,361.43 L245.24,361.78 L245.93,362.11 L246.63,362.42 L247.33,362.73 L248.02,363.03 L248.72,363.33 L249.41,363.63 L250.10,363.95 L250.52,364.16M258.40,364.39 L258.72,363.71 L258.99,362.98 L259.22,362.21 L259.42,361.40 L259.59,360.58 L259.75,359.74 L259.90,358.91 L260.05,358.07 L260.20,357.22 L260.34,356.35 L260.48,355.46 L260.53,355.16M261.56,347.27 L261.69,346.15 L261.81,345.04 L261.93,343.93 L262.05,342.83 L262.17,341.74 L262.28,340.66 L262.39,339.59 L262.50,338.52 L262.52,338.32M262.91,334.21 L263.02,333.11 L263.12,332.00 L263.22,330.88 L263.33,329.74 L263.43,328.60 L263.53,327.44 L263.63,326.26 L263.68,325.64M264.11,320.21 L264.21,318.97 L264.30,317.72 L264.39,316.46 L264.48,315.20 L264.58,313.94 L264.67,312.68 L264.75,311.64M265.25,305.24 L265.35,304.04 L265.45,302.86 L265.55,301.70 L265.65,300.57 L265.76,299.46 L265.86,298.39 L265.97,297.34 L266.03,296.67M267.37,288.56 L267.59,287.98 L267.81,287.60 L268.02,287.50 L268.24,287.72 L268.44,288.19 L268.64,288.84 L268.82,289.62 L268.99,290.43 L269.14,291.23 L269.28,292.01 L269.40,292.80 L269.52,293.60 L269.63,294.44 L269.74,295.33 L269.82,295.95M270.09,298.49 L270.22,299.72 L270.35,301.02 L270.48,302.38 L270.62,303.79 L270.75,305.24 L270.89,306.73 L270.92,307.05M271.59,314.32 L271.73,315.81 L271.87,317.28 L272.01,318.73 L272.14,320.17 L272.28,321.58 L272.41,322.88M273.16,329.63 L273.31,330.91 L273.47,332.15 L273.64,333.38 L273.81,334.59 L273.99,335.77 L274.16,336.93 L274.35,338.07 L274.36,338.15M275.57,344.40 L275.81,345.36 L276.07,346.28 L276.36,347.17 L276.67,348.02 L277.02,348.82 L277.40,349.57 L277.81,350.28 L278.27,350.94 L278.76,351.54 L279.29,352.08 L279.71,352.43M288.00,354.66 L288.65,354.68 L289.54,354.70 L290.47,354.70 L291.46,354.70 L292.51,354.69 L293.64,354.67 L294.86,354.65 L296.17,354.63 L296.90,354.61M303.70,354.55 L304.37,354.55 L306.40,354.56 L308.59,354.58 L310.93,354.61 L312.30,354.63" fill="none" stroke="#0000ff" stroke-width="2" stroke-linejoin="round"/>
<!-- panel c -->
<path d="M67.20,402.60 L68.29,402.63 L69.40,402.65 L70.52,402.67 L71.66,402.67 L72.81,402.68 L73.97,402.67 L75.13,402.67 L76.30,402.65 L77.48,402.64 L78.65,402.62 L79.83,402.59 L81.00,402.57 L82.16,402.54 L83.32,402.51 L84.47,402.47 L85.60,402.44 L86.72,402.40 L87.83,402.37 L88.91,402.33 L89.98,402.29 L91.02,402.26 L92.04,402.23 L93.02,402.20 L93.98,402.17 L94.91,402.14 L95.81,402.12 L96.67,402.10 L97.49,402.08 L98.27,402.07 L99.02,402.06 L99.74,402.07 L100.42,402.08 L101.07,402.10 L101.69,402.13 L102.28,402.18 L102.84,402.24 L103.37,402.31 L103.87,402.41 L104.35,402.53 L104.81,402.69 L105.26,402.87 L105.68,403.10 L106.09,403.37 L106.48,403.68 L106.85,404.03 L107.21,404.42 L107.54,404.83 L107.85,405.28 L108.14,405.76 L108.41,406.26 L108.66,406.79 L108.90,407.35 L109.13,407.93 L109.34,408.53 L109.55,409.15 L109.75,409.78 L109.95,410.44 L110.15,411.12 L110.34,411.82 L110.53,412.54 L110.71,413.28 L110.88,414.05 L111.05,414.84 L111.22,415.66 L111.37,416.50 L111.53,417.37 L111.67,418.27 L111.81,419.18 L111.95,420.10 L112.08,421.04 L112.21,421.98 L112.33,422.93 L112.45,423.87 L112.57,424.81 L112.69,425.73 L112.81,426.65 L112.92,427.54 L113.03,428.43 L113.15,429.30 L113.26,430.16 L113.37,431.01 L113.48,431.85 L113.60,432.69 L113.71,433.53 L113.82,434.37 L113.93,435.22 L114.05,436.06 L114.17,436.92 L114.28,437.78 L114.40,438.64 L114.51,439.50 L114.63,440.36 L114.74,441.21 L114.86,442.07 L114.97,442.91 L115.08,443.76 L115.19,444.59 L115.29,445.41 L115.39,446.22 L115.50,447.01 L115.61,447.78 L115.73,448.54 L115.86,449.27 L116.00,449.97 L116.16,450.64 L116.33,451.28 L116.53,451.89 L116.75,452.44 L116.98,452.90 L117.21,453.25 L117.44,453.46 L117.66,453.49 L117.88,453.34 L118.08,453.03 L118.26,452.59 L118.44,452.06 L118.61,451.47 L118.76,450.84 L118.91,450.17 L119.05,449.48 L119.18,448.76 L119.31,448.01 L119.43,447.24 L119.55,446.46 L119.67,445.65 L119.78,444.83 L119.90,444.00 L120.01,443.16 L120.12,442.31 L120.24,441.46 L120.35,440.60 L120.46,439.74 L120.58,438.87 L120.69,438.02 L120.80,437.16 L120.92,436.31 L121.03,435.47 L121.14,434.64 L121.26,433.82 L121.37,433.02 L121.48,432.22 L121.59,431.43 L121.71,430.66 L121.82,429.90 L121.94,429.15 L122.05,428.42 L122.16,427.70 L122.28,427.00 L122.40,426.31 L122.53,425.65 L122.67,425.00 L122.83,424.38 L123.00,423.78 L123.19,423.20 L123.40,422.66 L123.64,422.15 L123.89,421.72 L124.16,421.38 L124.45,421.16 L124.75,421.10 L125.05,421.20 L125.36,421.45 L125.66,421.81 L125.96,422.25 L126.23,422.75 L126.48,423.29 L126.70,423.84 L126.91,424.41 L127.10,425.00 L127.28,425.60 L127.46,426.21 L127.63,426.83 L127.82,427.45 L128.01,428.08 L128.20,428.72 L128.41,429.35 L128.63,429.99 L128.85,430.63 L129.07,431.28 L129.31,431.92 L129.55,432.56 L129.79,433.20 L130.04,433.84 L130.30,434.48 L130.57,435.11 L130.84,435.74 L131.12,436.35 L131.41,436.96 L131.72,437.56 L132.04,438.15 L132.37,438.72 L132.71,439.28 L133.07,439.82 L133.45,440.35 L133.84,440.85 L134.25,441.33 L134.69,441.79 L135.14,442.22 L135.61,442.62 L136.10,442.98 L136.62,443.29 L137.15,443.55 L137.71,443.74 L138.28,443.86 L138.88,443.90 L139.49,443.86 L140.11,443.74 L140.73,443.56 L141.33,443.32 L141.92,443.03 L142.48,442.70 L143.01,442.35 L143.48,441.97 L143.91,441.58 L144.31,441.18 L144.67,440.77 L145.01,440.36 L145.34,439.95 L145.66,439.55 L145.98,439.16 L146.31,438.77 L146.64,438.37 L146.97,437.97 L147.31,437.53 L147.65,437.07 L147.99,436.56 L148.34,436.01 L148.69,435.41 L149.04,434.78 L149.39,434.10 L149.74,433.39 L150.08,432.65 L150.43,431.88 L150.76,431.08 L151.10,430.27 L151.42,429.43 L151.74,428.58 L152.04,427.71 L152.35,426.83 L152.64,425.95 L152.93,425.05 L153.22,424.16 L153.50,423.26 L153.77,422.37 L154.05,421.49 L154.31,420.61 L154.58,419.74 L154.84,418.88 L155.10,418.04 L155.36,417.21 L155.61,416.39 L155.86,415.58 L156.10,414.79 L156.33,414.00 L156.56,413.23 L156.78,412.47 L157.00,411.72 L157.20,410.98 L157.40,410.25 L157.60,409.55 L157.79,408.88 L158.00,408.24 L158.20,407.65 L158.42,407.10 L158.65,406.60 L158.89,406.17 L159.15,405.81 L159.41,405.53 L159.68,405.36 L159.96,405.30 L160.23,405.36 L160.49,405.53 L160.74,405.79 L160.97,406.12 L161.18,406.50 L161.37,406.93 L161.54,407.41 L161.69,407.94 L161.84,408.51 L161.98,409.13 L162.12,409.78 L162.26,410.46 L162.39,411.18 L162.52,411.93 L162.65,412.70 L162.77,413.50 L162.89,414.32 L163.01,415.16 L163.12,416.02 L163.22,416.89 L163.32,417.78 L163.42,418.68 L163.51,419.60 L163.60,420.53 L163.69,421.47 L163.77,422.43 L163.85,423.41 L163.93,424.41 L164.00,425.42 L164.07,426.45 L164.15,427.51 L164.22,428.58 L164.29,429.67 L164.36,430.78 L164.43,431.90 L164.50,433.04 L164.57,434.20 L164.64,435.36 L164.71,436.54 L164.77,437.72 L164.84,438.91 L164.91,440.11 L164.98,441.30 L165.05,442.50 L165.12,443.70 L165.19,444.90 L165.27,446.09 L165.34,447.28 L165.41,448.47 L165.48,449.65 L165.56,450.83 L165.63,452.00 L165.70,453.17 L165.77,454.33 L165.84,455.49 L165.91,456.65 L165.98,457.80 L166.05,458.94 L166.11,460.08 L166.17,461.22 L166.23,462.35 L166.29,463.47 L166.35,464.59 L166.41,465.72 L166.46,466.84 L166.52,467.97 L166.57,469.10 L166.62,470.25 L166.68,471.40 L166.73,472.57 L166.79,473.75 L166.84,474.94 L166.90,476.16 L166.96,477.39 L167.02,478.65 L167.08,479.93 L167.14,481.23 L167.21,482.54 L167.28,483.86 L167.35,485.17 L167.42,486.49 L167.49,487.79 L167.56,489.08 L167.64,490.35 L167.71,491.59 L167.79,492.80 L167.87,493.97 L167.95,495.11 L168.02,496.19 L168.10,497.22 L168.18,498.20 L168.26,499.12 L168.34,500.00 L168.42,500.85 L168.49,501.66 L168.57,502.45 L168.65,503.23 L168.73,503.99 L168.81,504.76 L168.88,505.53 L168.96,506.31 L169.04,507.10 L169.11,507.90 L169.19,508.72 L169.27,509.54 L169.35,510.37 L169.42,511.21 L169.50,512.06 L169.58,512.90 L169.67,513.75 L169.75,514.60 L169.83,515.45 L169.92,516.30 L170.01,517.15 L170.10,517.99 L170.19,518.82 L170.28,519.64 L170.37,520.46 L170.46,521.25 L170.55,522.04 L170.64,522.80 L170.73,523.55 L170.82,524.29 L170.91,525.00 L171.01,525.71 L171.11,526.40 L171.22,527.07 L171.33,527.74 L171.46,528.40 L171.59,529.05 L171.74,529.69 L171.89,530.32 L172.06,530.94 L172.23,531.55 L172.40,532.16 L172.59,532.75 L172.78,533.33 L172.97,533.90 L173.17,534.45 L173.37,534.99 L173.59,535.52 L173.81,536.02 L174.04,536.51 L174.29,536.98 L174.55,537.42 L174.82,537.84 L175.11,538.25 L175.41,538.63 L175.72,539.00 L176.06,539.36 L176.41,539.70 L176.77,540.02 L177.15,540.33 L177.55,540.63 L177.97,540.90 L178.41,541.15 L178.87,541.38 L179.35,541.60 L179.85,541.79 L180.38,541.96 L180.93,542.12 L181.52,542.26 L182.13,542.39 L182.77,542.50 L183.44,542.60 L184.14,542.70 L184.84,542.78 L185.56,542.86 L186.28,542.93 L186.99,542.99 L187.70,543.06 L188.38,543.12 L189.05,543.17 L189.70,543.23 L190.34,543.28 L190.97,543.32 L191.58,543.36 L192.19,543.38 L192.80,543.40 L193.40,543.40 L194.01,543.38 L194.62,543.36 L195.23,543.32 L195.86,543.28 L196.50,543.23 L197.15,543.17 L197.82,543.12 L198.50,543.06 L199.21,542.99 L199.92,542.93 L200.64,542.86 L201.36,542.78 L202.06,542.70 L202.76,542.60 L203.43,542.50 L204.07,542.39 L204.68,542.26 L205.27,542.12 L205.82,541.96 L206.35,541.79 L206.85,541.60 L207.33,541.38 L207.79,541.15 L208.23,540.90 L208.65,540.63 L209.05,540.33 L209.43,540.02 L209.79,539.70 L210.14,539.36 L210.48,539.00 L210.79,538.63 L211.09,538.25 L211.38,537.84 L211.65,537.42 L211.91,536.98 L212.16,536.51 L212.39,536.02 L212.61,535.52 L212.83,534.99 L213.03,534.45 L213.23,533.90 L213.42,533.33 L213.61,532.75 L213.80,532.16 L213.97,531.55 L214.14,530.94 L214.31,530.32 L214.46,529.69 L214.61,529.05 L214.74,528.40 L214.87,527.74 L214.98,527.07 L215.09,526.40 L215.19,525.71 L215.29,525.00 L215.38,524.29 L215.47,523.55 L215.56,522.80 L215.65,522.04 L215.74,521.25 L215.83,520.46 L215.92,519.64 L216.01,518.82 L216.10,517.99 L216.19,517.15 L216.28,516.30 L216.37,515.45 L216.45,514.60 L216.53,513.75 L216.62,512.90 L216.70,512.06 L216.78,511.21 L216.85,510.37 L216.93,509.54 L217.01,508.72 L217.09,507.90 L217.16,507.10 L217.24,506.31 L217.32,505.53 L217.39,504.76 L217.47,503.99 L217.55,503.23 L217.63,502.45 L217.71,501.66 L217.78,500.85 L217.86,500.00 L217.94,499.12 L218.02,498.20 L218.10,497.22 L218.18,496.19 L218.25,495.11 L218.33,493.97 L218.41,492.80 L218.49,491.59 L218.56,490.35 L218.64,489.08 L218.71,487.79 L218.78,486.49 L218.85,485.17 L218.92,483.86 L218.99,482.54 L219.06,481.23 L219.12,479.93 L219.18,478.65 L219.24,477.39 L219.30,476.16 L219.36,474.94 L219.41,473.75 L219.47,472.57 L219.52,471.40 L219.58,470.25 L219.63,469.10 L219.68,467.97 L219.74,466.84 L219.79,465.72 L219.85,464.59 L219.91,463.47 L219.97,462.35 L220.03,461.22 L220.09,460.08 L220.15,458.94 L220.22,457.80 L220.29,456.65 L220.36,455.49 L220.43,454.33 L220.50,453.17 L220.57,452.00 L220.64,450.83 L220.72,449.65 L220.79,448.47 L220.86,447.28 L220.93,446.09 L221.01,444.90 L221.08,443.70 L221.15,442.50 L221.22,441.30 L221.29,440.11 L221.36,438.91 L221.43,437.72 L221.49,436.54 L221.56,435.36 L221.63,434.20 L221.70,433.04 L221.77,431.90 L221.84,430.78 L221.91,429.67 L221.98,428.58 L222.05,427.51 L222.13,426.45 L222.20,425.42 L222.27,424.41 L222.35,423.41 L222.43,422.43 L222.51,421.47 L222.60,420.53 L222.69,419.60 L222.78,418.68 L222.88,417.78 L222.98,416.89 L223.08,416.02 L223.19,415.16 L223.31,414.32 L223.43,413.50 L223.55,412.70 L223.68,411.93 L223.81,411.18 L223.94,410.46 L224.08,409.78 L224.22,409.13 L224.36,408.51 L224.51,407.94 L224.66,407.41 L224.83,406.93 L225.02,406.50 L225.23,406.12 L225.46,405.79 L225.71,405.53 L225.97,405.36 L226.24,405.30 L226.52,405.36 L226.79,405.53 L227.05,405.81 L227.31,406.17 L227.55,406.60 L227.78,407.10 L228.00,407.65 L228.20,408.24 L228.41,408.88 L228.60,409.55 L228.80,410.25 L229.00,410.98 L229.20,411.72 L229.42,412.47 L229.64,413.23 L229.87,414.00 L230.10,414.79 L230.34,415.58 L230.59,416.39 L230.84,417.21 L231.10,418.04 L231.36,418.88 L231.62,419.74 L231.89,420.61 L232.15,421.49 L232.43,422.37 L232.70,423.26 L232.98,424.16 L233.27,425.05 L233.56,425.95 L233.85,426.83 L234.16,427.71 L234.46,428.58 L234.78,429.43 L235.10,430.27 L235.44,431.08 L235.77,431.88 L236.12,432.65 L236.46,433.39 L236.81,434.10 L237.16,434.78 L237.51,435.41 L237.86,436.01 L238.21,436.56 L238.55,437.07 L238.89,437.53 L239.23,437.97 L239.56,438.37 L239.89,438.77 L240.22,439.16 L240.54,439.55 L240.86,439.95 L241.19,440.36 L241.53,440.77 L241.89,441.18 L242.29,441.58 L242.72,441.97 L243.19,442.35 L243.72,442.70 L244.28,443.03 L244.87,443.32 L245.47,443.56 L246.09,443.74 L246.71,443.86 L247.32,443.90 L247.92,443.86 L248.49,443.74 L249.05,443.55 L249.58,443.29 L250.10,442.98 L250.59,442.62 L251.06,442.22 L251.51,441.79 L251.95,441.33 L252.36,440.85 L252.75,440.35 L253.13,439.82 L253.49,439.28 L253.83,438.72 L254.16,438.15 L254.48,437.56 L254.79,436.96 L255.08,436.35 L255.36,435.74 L255.63,435.11 L255.90,434.48 L256.16,433.84 L256.41,433.20 L256.65,432.56 L256.89,431.92 L257.13,431.28 L257.35,430.63 L257.57,429.99 L257.79,429.35 L258.00,428.72 L258.19,428.08 L258.38,427.45 L258.57,426.83 L258.74,426.21 L258.92,425.60 L259.10,425.00 L259.29,424.41 L259.50,423.84 L259.72,423.29 L259.97,422.75 L260.24,422.25 L260.54,421.81 L260.84,421.45 L261.15,421.20 L261.45,421.10 L261.75,421.16 L262.04,421.38 L262.31,421.72 L262.56,422.15 L262.80,422.66 L263.01,423.20 L263.20,423.78 L263.37,424.38 L263.53,425.00 L263.67,425.65 L263.80,426.31 L263.92,427.00 L264.04,427.70 L264.15,428.42 L264.26,429.15 L264.38,429.90 L264.49,430.66 L264.61,431.43 L264.72,432.22 L264.83,433.02 L264.94,433.82 L265.06,434.64 L265.17,435.47 L265.28,436.31 L265.40,437.16 L265.51,438.02 L265.62,438.87 L265.74,439.74 L265.85,440.60 L265.96,441.46 L266.08,442.31 L266.19,443.16 L266.30,444.00 L266.42,444.83 L266.53,445.65 L266.65,446.46 L266.77,447.24 L266.89,448.01 L267.02,448.76 L267.15,449.48 L267.29,450.17 L267.44,450.84 L267.59,451.47 L267.76,452.06 L267.94,452.59 L268.12,453.03 L268.32,453.34 L268.54,453.49 L268.76,453.46 L268.99,453.25 L269.22,452.90 L269.45,452.44 L269.67,451.89 L269.87,451.28 L270.04,450.64 L270.20,449.97 L270.34,449.27 L270.47,448.54 L270.59,447.78 L270.70,447.01 L270.81,446.22 L270.91,445.41 L271.01,444.59 L271.12,443.76 L271.23,442.91 L271.34,442.07 L271.46,441.21 L271.57,440.36 L271.69,439.50 L271.80,438.64 L271.92,437.78 L272.03,436.92 L272.15,436.06 L272.27,435.22 L272.38,434.37 L272.49,433.53 L272.60,432.69 L272.72,431.85 L272.83,431.01 L272.94,430.16 L273.05,429.30 L273.17,428.43 L273.28,427.54 L273.39,426.65 L273.51,425.73 L273.63,424.81 L273.75,423.87 L273.87,422.93 L273.99,421.98 L274.12,421.04 L274.25,420.10 L274.39,419.18 L274.53,418.27 L274.67,417.37 L274.83,416.50 L274.98,415.66 L275.15,414.84 L275.32,414.05 L275.49,413.28 L275.67,412.54 L275.86,411.82 L276.05,411.12 L276.25,410.44 L276.45,409.78 L276.65,409.15 L276.86,408.53 L277.07,407.93 L277.30,407.35 L277.54,406.79 L277.79,406.26 L278.06,405.76 L278.35,405.28 L278.66,404.83 L278.99,404.42 L279.35,404.03 L279.72,403.68 L280.11,403.37 L280.52,403.10 L280.94,402.87 L281.39,402.69 L281.85,402.53 L282.33,402.41 L282.83,402.31 L283.36,402.24 L283.92,402.18 L284.51,402.13 L285.13,402.10 L285.78,402.08 L286.46,402.07 L287.18,402.06 L287.93,402.07 L288.71,402.08 L289.53,402.10 L290.39,402.12 L291.29,402.14 L292.22,402.17 L293.18,402.20 L294.16,402.23 L295.18,402.26 L296.22,402.29 L297.29,402.33 L298.37,402.37 L299.48,402.40 L300.60,402.44 L301.73,402.47 L302.88,402.51 L304.04,402.54 L305.20,402.57 L306.37,402.59 L307.55,402.62 L308.72,402.64 L309.90,402.65 L311.07,402.67 L312.23,402.67 L313.39,402.68 L314.54,402.67 L315.68,402.67 L316.80,402.65 L317.91,402.63 L319.00,402.60" fill="none" stroke="#000" stroke-width="1.7" stroke-linejoin="round"/>
<!-- frames and ticks -->
<path d="M66.6,1.5H319.5M66.6,186.1H319.5M66.9,187.3H319.5M66.6,557.2H319.5" fill="none" stroke="#111" stroke-width="1"/>
<path d="M66.9,372.15H319.5" fill="none" stroke="#111" stroke-width="1.5"/>
<path d="M67.1,1V186.6M318.9,1V186.6M319,186.8V372.5M67.1,372V557.7M319,372V557.7" fill="none" stroke="#000" stroke-width="0.8"/>
<path d="M67.45,186.8V372.5" fill="none" stroke="#111" stroke-width="1"/>
<path d="M98.60,1.50v2.60M130.10,1.50v4.30M161.60,1.50v2.60M193.10,1.50v4.30M224.60,1.50v2.60M256.10,1.50v4.30M287.60,1.50v2.60M98.60,186.10v-2.60M130.10,186.10v-4.30M161.60,186.10v-2.60M193.10,186.10v-4.30M224.60,186.10v-2.60M256.10,186.10v-4.30M287.60,186.10v-2.60M67.10,14.20h4.30M67.10,53.85h4.30M67.10,93.50h4.30M67.10,133.15h4.30M67.10,172.80h4.30M67.10,34.02h2.60M67.10,73.67h2.60M67.10,113.33h2.60M67.10,152.97h2.60M319.00,14.20h-4.30M319.00,53.85h-4.30M319.00,93.50h-4.30M319.00,133.15h-4.30M319.00,172.80h-4.30M319.00,34.02h-2.60M319.00,73.67h-2.60M319.00,113.33h-2.60M319.00,152.97h-2.60M98.60,187.30v2.60M130.10,187.30v4.30M161.60,187.30v2.60M193.10,187.30v4.30M224.60,187.30v2.60M256.10,187.30v4.30M287.60,187.30v2.60M98.60,372.00v-2.60M130.10,372.00v-4.30M161.60,372.00v-2.60M193.10,372.00v-4.30M224.60,372.00v-2.60M256.10,372.00v-4.30M287.60,372.00v-2.60M67.10,203.90h4.30M67.10,254.33h4.30M67.10,304.76h4.30M67.10,355.19h4.30M67.10,229.12h2.60M67.10,279.55h2.60M67.10,329.98h2.60M319.00,203.90h-4.30M319.00,254.33h-4.30M319.00,304.76h-4.30M319.00,355.19h-4.30M319.00,229.12h-2.60M319.00,279.55h-2.60M319.00,329.98h-2.60M98.60,372.30v2.60M130.10,372.30v4.30M161.60,372.30v2.60M193.10,372.30v4.30M224.60,372.30v2.60M256.10,372.30v4.30M287.60,372.30v2.60M98.60,557.20v-2.60M130.10,557.20v-4.30M161.60,557.20v-2.60M193.10,557.20v-4.30M224.60,557.20v-2.60M256.10,557.20v-4.30M287.60,557.20v-2.60M67.10,384.70h4.30M67.10,433.80h4.30M67.10,482.90h4.30M67.10,532.00h4.30M67.10,409.25h2.60M67.10,458.35h2.60M67.10,507.45h2.60M319.00,384.70h-4.30M319.00,433.80h-4.30M319.00,482.90h-4.30M319.00,532.00h-4.30M319.00,409.25h-2.60M319.00,458.35h-2.60M319.00,507.45h-2.60" fill="none" stroke="#222" stroke-width="0.9"/>
<!-- tick labels -->
<text transform="translate(63,19.10) scale(0.96,1)" style="font-size:15.6px" text-anchor="end">0.30</text><text transform="translate(63,58.75) scale(0.96,1)" style="font-size:15.6px" text-anchor="end">0.15</text><text transform="translate(63,98.40) scale(0.96,1)" style="font-size:15.6px" text-anchor="end">0.00</text><text transform="translate(63,138.05) scale(0.96,1)" style="font-size:15.6px" text-anchor="end">-0.15</text><text transform="translate(63,177.70) scale(0.96,1)" style="font-size:15.6px" text-anchor="end">-0.30</text><text transform="translate(63,208.80) scale(0.96,1)" style="font-size:15.6px" text-anchor="end">0.045</text><text transform="translate(63,259.23) scale(0.96,1)" style="font-size:15.6px" text-anchor="end">0.030</text><text transform="translate(63,309.66) scale(0.96,1)" style="font-size:15.6px" text-anchor="end">0.015</text><text transform="translate(63,360.09) scale(0.96,1)" style="font-size:15.6px" text-anchor="end">0.000</text><text transform="translate(63,390.10) scale(0.96,1)" style="font-size:15.6px" text-anchor="end">0.24</text><text transform="translate(63,439.20) scale(0.96,1)" style="font-size:15.6px" text-anchor="end">0.20</text><text transform="translate(63,488.30) scale(0.96,1)" style="font-size:15.6px" text-anchor="end">0.16</text><text transform="translate(63,537.40) scale(0.96,1)" style="font-size:15.6px" text-anchor="end">0.12</text><text transform="translate(67.10,573.8) scale(0.96,1)" style="font-size:15.6px" text-anchor="middle">-100</text><text transform="translate(130.10,573.8) scale(0.96,1)" style="font-size:15.6px" text-anchor="middle">-50</text><text transform="translate(193.10,573.8) scale(0.96,1)" style="font-size:15.6px" text-anchor="middle">0</text><text transform="translate(256.10,573.8) scale(0.96,1)" style="font-size:15.6px" text-anchor="middle">50</text><text transform="translate(319.10,573.8) scale(0.96,1)" style="font-size:15.6px" text-anchor="middle">100</text>
<!-- panel tags -->
<text x="83" y="29">a)</text>
<text x="83" y="213">b)</text>
<text x="89" y="395">c)</text>
<!-- axis titles -->
<text transform="translate(21.7,104.5) rotate(-90) scale(0.92,1)" style="font-size:16.5px">I/I<tspan font-size="9.5px" dy="5.3">0</tspan></text>
<text transform="translate(15.6,310.6) rotate(-90) scale(0.93,1)" style="font-size:16.3px">G (2e<tspan font-size="10.5px" dy="-7.2">2</tspan><tspan dy="7.2">/h)</tspan></text>
<text transform="translate(19.6,480.8) rotate(-90) scale(0.94,1)" style="font-size:15.8px">TMR</text>
<text transform="translate(170.5,594.2) scale(0.91,1)" style="font-size:16.5px">eV/k<tspan font-size="10.5px" dy="4.3">B</tspan><tspan dy="-4.3">T</tspan></text>
<!-- legends -->
<g class="lg">
<path d="M124.8,18.9H149" stroke="#ff0000" stroke-width="1.8"/>
<path d="M124.8,31.4H132.8M140.8,31.4H149" stroke="#0000ff" stroke-width="2"/>
<text x="151.6" y="22.3">P</text>
<text x="151" y="34.6">AP</text>
<path d="M256.9,207H280" stroke="#ff0000" stroke-width="1.8"/>
<path d="M256.9,219.6H265.1M272.2,219.6H280" stroke="#0000ff" stroke-width="2"/>
<text x="282.7" y="210.3">P</text>
<text x="282.1" y="222.8">AP</text>
</g>
</svg>
</body></html>
